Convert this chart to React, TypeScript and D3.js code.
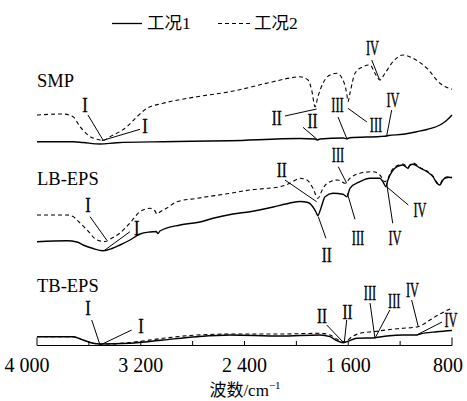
import React from 'react';
import * as d3 from 'd3';

// ---- data (wavenumber cm^-1, relative signal, stacked offsets) ----
const xTicks = [4000, 3600, 3200, 2800, 2400, 2000, 1600, 1200, 800];
const xTickLabels = ['4 000', '', '3 200', '', '2 400', '', '1 600', '', '800'];
const seriesNames = ['工况1', '工况2'];
const groupNames = ['SMP', 'LB-EPS', 'TB-EPS'];
const groupLabelLevel = [258.5, 160.5, 53.3];

const smp1: [number, number][] = [
  [4000, 203.3], [3722, 203.3], [3645, 202.5], [3514, 201], [3383, 202.3], [3028, 203.3],
  [2512, 204.3], [1972, 206.5], [1856, 206], [1841, 205], [1818, 206], [1641, 207],
  [1612, 206.3], [1587, 207.2], [1356, 208.5], [1304, 209], [1290, 209.5], [1178, 210.7],
  [1072, 213.3], [993, 215.5], [893, 220], [847, 224], [800, 230],
];
const smp2: [number, number][] = [
  [4000, 230], [3799, 231], [3722, 228.3], [3668, 218.3], [3607, 210], [3514, 205],
  [3491, 204.5], [3437, 208.3], [3306, 218.3], [3229, 228.3], [3152, 236.7], [3028, 241.7],
  [2766, 248.3], [2512, 253.3], [2180, 263.3], [2049, 267], [1972, 268.3], [1910, 265],
  [1882, 255], [1856, 238.3], [1834, 248.3], [1795, 261.7], [1741, 270], [1689, 271.7],
  [1641, 265], [1612, 251.7], [1602, 243.3], [1587, 251.7], [1548, 271.7], [1487, 278.3],
  [1432, 280], [1394, 271.7], [1356, 265], [1317, 271.7], [1255, 283.3], [1178, 290],
  [1101, 286.7], [993, 276.7], [893, 261.7], [800, 255.7],
];
const lb1: [number, number][] = [
  [4000, 103.3], [3769, 104.3], [3692, 103], [3645, 100], [3568, 96.5], [3491, 94.3],
  [3422, 96.5], [3360, 100], [3283, 105], [3206, 111], [3129, 113], [3082, 113.5],
  [3067, 111.5], [3052, 114], [2897, 120], [2743, 123], [2643, 126.7], [2489, 131],
  [2358, 133.3], [2180, 138], [2049, 142], [1972, 143.5], [1910, 142.5], [1872, 138],
  [1849, 133], [1834, 129.3], [1818, 134], [1803, 140], [1779, 148.3], [1718, 151.7],
  [1641, 150.7], [1610, 148.3], [1587, 156.7], [1510, 163.3], [1432, 166.7], [1356, 166.7],
  [1332, 163], [1309, 158.3], [1294, 165], [1263, 173.3], [1224, 178.3], [1178, 180],
  [1155, 178], [1139, 176.7], [1124, 180], [1101, 180.7], [1047, 177], [993, 173.3],
  [947, 168.3], [916, 161.7], [893, 160], [870, 165], [839, 168], [800, 167.3],
];
const lb2: [number, number][] = [
  [4000, 130], [3769, 130], [3722, 128.5], [3692, 125], [3614, 115], [3537, 105],
  [3476, 103.5], [3422, 107], [3360, 112], [3283, 122], [3206, 133.3], [3129, 136.7],
  [3090, 134], [3075, 131], [3052, 133], [2998, 137], [2920, 143.3], [2766, 146.7],
  [2512, 151.7], [2358, 155], [2227, 156.7], [2126, 158.3], [2049, 161.7], [1972, 166.7],
  [1918, 165], [1872, 156.7], [1834, 146.7], [1795, 156.7], [1741, 163.3], [1679, 165],
  [1625, 161.7], [1587, 166.7], [1510, 171.7], [1409, 173.3], [1356, 170], [1317, 163.3],
  [1301, 165], [1263, 175], [1224, 179.3], [1178, 181], [1139, 178], [1101, 182],
  [1047, 177.5], [993, 174], [947, 169], [916, 162.5], [893, 161], [870, 166], [800, 168],
];
const tb1: [number, number][] = [
  [4000, 8.3], [3722, 8.3], [3645, 5], [3568, 1.7], [3514, 1], [3283, 1.7], [3028, 5],
  [2766, 8.3], [2512, 10], [2126, 9], [1818, 10], [1741, 8.3], [1687, 4.3], [1641, 2.3],
  [1610, 3.3], [1533, 6.7], [1394, 7.3], [1301, 9], [1178, 10], [1070, 10], [1047, 11],
  [916, 13.3], [800, 14.5],
];
const tb2: [number, number][] = [
  [4000, 8.3], [3722, 8.3], [3645, 5], [3568, 1.7], [3514, 1], [3460, 1], [3283, 2.5],
  [3028, 6.7], [2766, 10], [2458, 11], [2126, 11], [1818, 11.7], [1741, 10], [1664, 4.3],
  [1625, 3.3], [1571, 8.3], [1510, 11.7], [1394, 13.5], [1279, 15.5], [1178, 16.7],
  [1062, 18.3], [970, 25], [893, 31], [800, 37],
];

// peak annotations: label, label anchor (wn, level), leader line from -> to
type Ann = { t: string; lx: number; ly: number; a: [number, number]; b: [number, number] };
const annotations: Ann[] = [
  // SMP
  { t: 'I', lx: 3630, ly: 233.3, a: [3607, 230], b: [3491, 205] },
  { t: 'I', lx: 3167, ly: 212.3, a: [3206, 215.7], b: [3501, 204.3] },
  { t: 'II', lx: 2152, ly: 220, a: [2088, 229], b: [1844, 236] },
  { t: 'II', lx: 1876, ly: 217, a: [1949, 217.7], b: [1841, 205.7] },
  { t: 'III', lx: 1683, ly: 233.3, a: [1679, 228], b: [1612, 206.7] },
  { t: 'III', lx: 1386, ly: 213.3, a: [1602, 236.7], b: [1456, 223] },
  { t: 'IV', lx: 1413, ly: 290, a: [1419, 285], b: [1360, 265.7] },
  { t: 'IV', lx: 1255, ly: 238.3, a: [1265, 235], b: [1304, 209] },
  // LB-EPS
  { t: 'I', lx: 3607, ly: 133.3, a: [3591, 128.3], b: [3463, 105] },
  { t: 'I', lx: 3231, ly: 110, a: [3283, 113.3], b: [3476, 95] },
  { t: 'II', lx: 2113, ly: 168.3, a: [2088, 165], b: [1844, 143.3] },
  { t: 'II', lx: 1766, ly: 83.5, a: [1831, 128.3], b: [1772, 106.7] },
  { t: 'III', lx: 1679, ly: 183.3, a: [1677, 178.3], b: [1612, 161.7] },
  { t: 'III', lx: 1525, ly: 100, a: [1607, 151.7], b: [1548, 125.7] },
  { t: 'IV', lx: 1047, ly: 128.3, a: [1304, 158.3], b: [1137, 140] },
  { t: 'IV', lx: 1240, ly: 100, a: [1304, 161.7], b: [1257, 121.7] },
  // TB-EPS
  { t: 'I', lx: 3607, ly: 30.5, a: [3578, 25], b: [3514, 0] },
  { t: 'I', lx: 3198, ly: 12, a: [3270, 15], b: [3501, 0.7] },
  { t: 'II', lx: 1802, ly: 22, a: [1766, 20], b: [1643, 3.3] },
  { t: 'II', lx: 1606, ly: 26, a: [1612, 25], b: [1630, 3.3] },
  { t: 'III', lx: 1432, ly: 45, a: [1432, 42], b: [1394, 6.7] },
  { t: 'III', lx: 1245, ly: 37, a: [1279, 35], b: [1394, 6.7] },
  { t: 'IV', lx: 1105, ly: 48.3, a: [1111, 45], b: [1060, 18.3] },
  { t: 'IV', lx: 808, ly: 18.3, a: [877, 23], b: [1072, 10] },
];

const W = 467;
const H = 401;
const SERIF = '"Liberation Serif", "Times New Roman", "Noto Sans CJK SC", serif';
const numeralWidth: Record<string, number> = { I: 5.5, II: 10, III: 12.5, IV: 13 };

export default function App() {
  const x = d3.scaleLinear().domain([4000, 800]).range([37, 452]);
  const y = d3.scaleLinear().domain([0, 300]).range([345, 45]);
  const line = d3
    .line<[number, number]>()
    .x((d) => x(d[0]))
    .y((d) => y(d[1]))
    .curve(d3.curveMonotoneX);

  const solids = [smp1, lb1, tb1];
  const dashes = [smp2, lb2, tb2];
  const axisY = y(0) + 0.5;

  return (
    <div style={{ position: 'fixed', left: 0, top: 0 }}>
      <svg width={W} height={H} viewBox={`0 0 ${W} ${H}`} style={{ display: 'block', background: '#fff' }}>
        {/* legend */}
        <g fontFamily={SERIF} fontSize={17.5} fill="#000">
          <line x1={112} x2={142} y1={23.5} y2={23.5} stroke="#000" strokeWidth={1.3} />
          <text x={147} y={29}>{seriesNames[0]}</text>
          <line x1={218} x2={250} y1={23.5} y2={23.5} stroke="#000" strokeWidth={1.1} strokeDasharray="4 3" />
          <text x={254} y={29}>{seriesNames[1]}</text>
        </g>

        {/* group labels */}
        {groupNames.map((g, i) => (
          <text key={g} x={x(4000)} y={y(groupLabelLevel[i])} fontFamily={SERIF} fontSize={18.5} fill="#000">
            {g}
          </text>
        ))}

        {/* spectra */}
        {dashes.map((d, i) => (
          <path key={'d' + i} d={line(d) || ''} fill="none" stroke="#000" strokeWidth={1.1} strokeDasharray="4 3" />
        ))}
        {solids.map((d, i) => (
          <path key={'s' + i} d={line(d) || ''} fill="none" stroke="#000" strokeWidth={1.4} />
        ))}

        {/* annotations */}
        {annotations.map((a, i) => (
          <g key={'a' + i}>
            <line x1={x(a.a[0])} y1={y(a.a[1])} x2={x(a.b[0])} y2={y(a.b[1])} stroke="#000" strokeWidth={1} />
            <text
              x={x(a.lx)}
              y={y(a.ly)}
              textAnchor="middle"
              fontFamily={SERIF}
              fontSize={20}
              textLength={numeralWidth[a.t]}
              lengthAdjust="spacingAndGlyphs"
              fill="#000"
              stroke="#000"
              strokeWidth={0.35}
            >
              {a.t}
            </text>
          </g>
        ))}

        {/* x axis */}
        <line x1={x(4000)} x2={x(800)} y1={axisY} y2={axisY} stroke="#000" strokeWidth={1} />
        {xTicks.map((t, i) => {
          const end = i === 0 || i === xTicks.length - 1;
          return (
            <line
              key={'t' + t}
              x1={x(t)}
              x2={x(t)}
              y1={axisY}
              y2={axisY - (end ? 8 : 4.5)}
              stroke="#000"
              strokeWidth={1}
            />
          );
        })}
        {xTicks.map((t, i) =>
          xTickLabels[i] ? (
            <text
              key={'l' + t}
              x={x(t) + (i === 0 ? -10 : i === xTicks.length - 1 ? -4 : 0)}
              y={372}
              textAnchor="middle"
              fontFamily={SERIF}
              fontSize={20}
              fill="#000"
            >
              {xTickLabels[i]}
            </text>
          ) : null
        )}
        <text x={245} y={396} textAnchor="middle" fontFamily={SERIF} fontSize={17} fill="#000">
          波数/cm
          <tspan fontSize={11} dy={-7}>−1</tspan>
        </text>
      </svg>
    </div>
  );
}
